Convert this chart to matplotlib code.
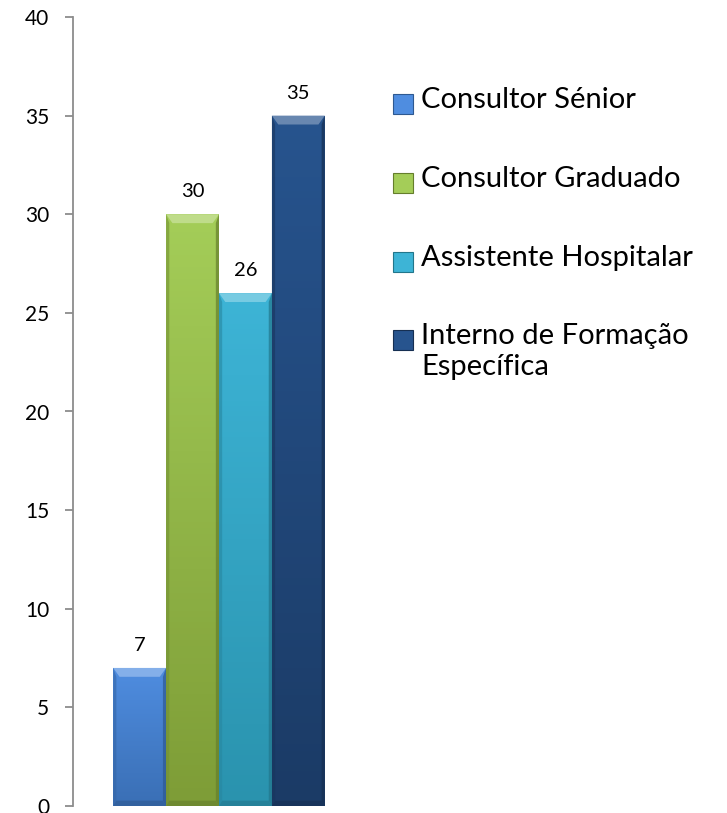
import matplotlib.pyplot as plt
import matplotlib.colors as mcolors
from matplotlib.patches import Polygon, Rectangle
import numpy as np

plt.rcParams['font.family'] = ['Lato', 'DejaVu Sans']

# data
categories = ['Consultor Sénior', 'Consultor Graduado', 'Assistente Hospitalar',
              'Interno de Formação\nEspecífica']
values = [7, 30, 26, 35]
yticks = [0, 5, 10, 15, 20, 25, 30, 35, 40]

# colours top / bottom of the gradient
top_cols = ['#4f8de0', '#a4cd58', '#3db4d6', '#27548e']
bot_cols = ['#3a6fb5', '#7e9d37', '#2a93ae', '#1b3b66']


def shade(c, f):
    r, g, b = mcolors.to_rgb(c)
    if f > 0:
        return (r + (1 - r) * f, g + (1 - g) * f, b + (1 - b) * f)
    return (r * (1 + f), g * (1 + f), b * (1 + f))


fig = plt.figure(figsize=(7.27, 8.13), dpi=100)
W, H = 727, 813
ax = fig.add_axes([73 / W, 1 - 806 / H, (365 - 73) / W, (806 - 17) / H])

x = np.arange(len(values))
bw = 1.0
bars = ax.bar(x, values, width=bw, color=top_cols, edgecolor='none', zorder=2)

bx = 0.12   # bevel width in bar units
by = 0.45   # bevel height in data units
for i, b in enumerate(bars):
    x0 = b.get_x()
    x1 = x0 + b.get_width()
    h = b.get_height()
    # vertical gradient clipped to the bar
    cmap = mcolors.LinearSegmentedColormap.from_list('g', [bot_cols[i], top_cols[i]])
    grad = np.linspace(0, 1, 100).reshape(-1, 1)
    im = ax.imshow(grad, cmap=cmap, origin='lower', aspect='auto',
                   extent=[x0, x1, 0, h], zorder=2.5)
    im.set_clip_path(b)
    # bevels
    top = Polygon([[x0, h], [x1, h], [x1 - bx, h - by], [x0 + bx, h - by]],
                  closed=True, color=shade(top_cols[i], 0.3), lw=0, zorder=3)
    left = Polygon([[x0, h], [x0 + bx * 0.5, h - by], [x0 + bx * 0.5, by * 0.6], [x0, 0]],
                   closed=True, color=shade(bot_cols[i], -0.08), lw=0, zorder=3, alpha=0.6)
    right = Polygon([[x1, h], [x1 - bx * 0.5, h - by], [x1 - bx * 0.5, by * 0.6], [x1, 0]],
                    closed=True, color=shade(bot_cols[i], -0.2), lw=0, zorder=3, alpha=0.7)
    bottom = Polygon([[x0, 0], [x1, 0], [x1 - bx * 0.5, by * 0.6], [x0 + bx * 0.5, by * 0.6]],
                     closed=True, color=shade(bot_cols[i], -0.15), lw=0, zorder=3, alpha=0.8)
    for p in (top, left, right, bottom):
        ax.add_patch(p)
    ax.text(b.get_x() + b.get_width() / 2, h + 0.7, str(values[i]),
            ha='center', va='bottom', fontsize=14.5, color='black')

ax.set_xlim(-1.26, 4.26)
ax.set_ylim(0, 40)
ax.set_yticks(yticks)
ax.set_xticks([])
for s in ('top', 'right', 'bottom'):
    ax.spines[s].set_visible(False)
ax.spines['left'].set_color('#8c8c8c')
ax.spines['left'].set_linewidth(1.3)
ax.tick_params(axis='y', direction='out', length=6, width=1.3, color='#8c8c8c',
               labelsize=15, pad=11)

# legend drawn on the figure
row_y = [104, 183, 262, 340]
for i, lab in enumerate(categories):
    cy = row_y[i]
    sq = Rectangle((393 / W, 1 - (cy + 10) / H), 20 / W, 20 / H, transform=fig.transFigure,
                   facecolor=top_cols[i], edgecolor=shade(bot_cols[i], -0.2), lw=0.8)
    fig.patches.append(sq)
    fig.text(421 / W, 1 - (cy - 17) / H, lab, ha='left', va='top', fontsize=21,
             linespacing=1.25)

fig.savefig('out.png', dpi=100)
